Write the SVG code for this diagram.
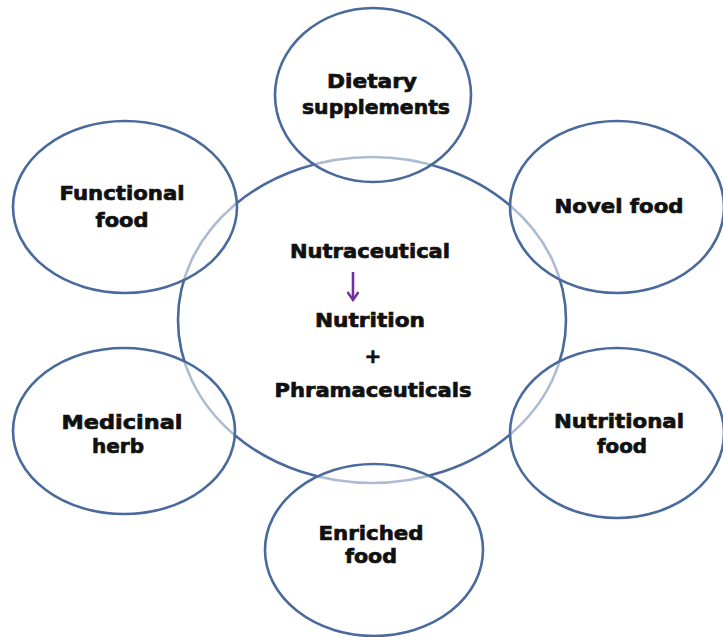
<svg xmlns="http://www.w3.org/2000/svg" width="723" height="637" viewBox="0 0 723 637">
<defs>
<style>
.ring{fill:#ffffff;fill-opacity:0.55;stroke:#4a6a9c;stroke-width:2.6}
.core{fill:#ffffff;stroke:#4a6a9c;stroke-width:2.6}
.t{font-family:"DejaVu Sans",Verdana,sans-serif;font-weight:bold;font-size:20px;fill:#111;stroke:#111;stroke-width:0.7;text-anchor:middle}
</style>
<marker id="ah" viewBox="0 0 12 12" refX="10" refY="6" markerWidth="12" markerHeight="12" markerUnits="userSpaceOnUse" orient="auto">
<path d="M2,0.5 L10,6 L2,11.5" fill="none" stroke="#7030a0" stroke-width="2.4"/>
</marker>
</defs>
<rect width="723" height="637" fill="#ffffff"/>
<g id="center">
<ellipse class="core" cx="372" cy="320" rx="194" ry="163"/>
<text class="t" x="370" y="258" textLength="160" lengthAdjust="spacingAndGlyphs">Nutraceutical</text>
<text class="t" x="370" y="327" textLength="110" lengthAdjust="spacingAndGlyphs">Nutrition</text>
<text class="t" x="373" y="363">+</text>
<text class="t" x="373" y="397" textLength="197" lengthAdjust="spacingAndGlyphs">Phramaceuticals</text>
</g>
<g id="connectors">
<line x1="353" y1="272" x2="353" y2="300" stroke="#7030a0" stroke-width="2.6" marker-end="url(#ah)"/>
</g>
<g id="dietary">
<ellipse class="ring" cx="373" cy="95" rx="98" ry="87"/>
<text class="t" x="372" y="88" textLength="90" lengthAdjust="spacingAndGlyphs">Dietary</text>
<text class="t" x="376" y="114" textLength="148" lengthAdjust="spacingAndGlyphs">supplements</text>
</g>
<g id="functional">
<ellipse class="ring" cx="125" cy="207" rx="112" ry="86"/>
<text class="t" x="122" y="200" textLength="125" lengthAdjust="spacingAndGlyphs">Functional</text>
<text class="t" x="122" y="227" textLength="53" lengthAdjust="spacingAndGlyphs">food</text>
</g>
<g id="novel">
<ellipse class="ring" cx="617" cy="207" rx="107" ry="86"/>
<text class="t" x="619" y="213" textLength="129" lengthAdjust="spacingAndGlyphs">Novel food</text>
</g>
<g id="nutritional">
<ellipse class="ring" cx="617" cy="433" rx="107" ry="85"/>
<text class="t" x="619" y="428" textLength="130" lengthAdjust="spacingAndGlyphs">Nutritional</text>
<text class="t" x="622" y="453" textLength="50" lengthAdjust="spacingAndGlyphs">food</text>
</g>
<g id="medicinal">
<ellipse class="ring" cx="124" cy="431" rx="111" ry="83"/>
<text class="t" x="122" y="429" textLength="121" lengthAdjust="spacingAndGlyphs">Medicinal</text>
<text class="t" x="118" y="453" textLength="52" lengthAdjust="spacingAndGlyphs">herb</text>
</g>
<g id="enriched">
<ellipse class="ring" cx="374" cy="550" rx="109" ry="86"/>
<text class="t" x="371" y="540" textLength="105" lengthAdjust="spacingAndGlyphs">Enriched</text>
<text class="t" x="371" y="563" textLength="52" lengthAdjust="spacingAndGlyphs">food</text>
</g>
</svg>
